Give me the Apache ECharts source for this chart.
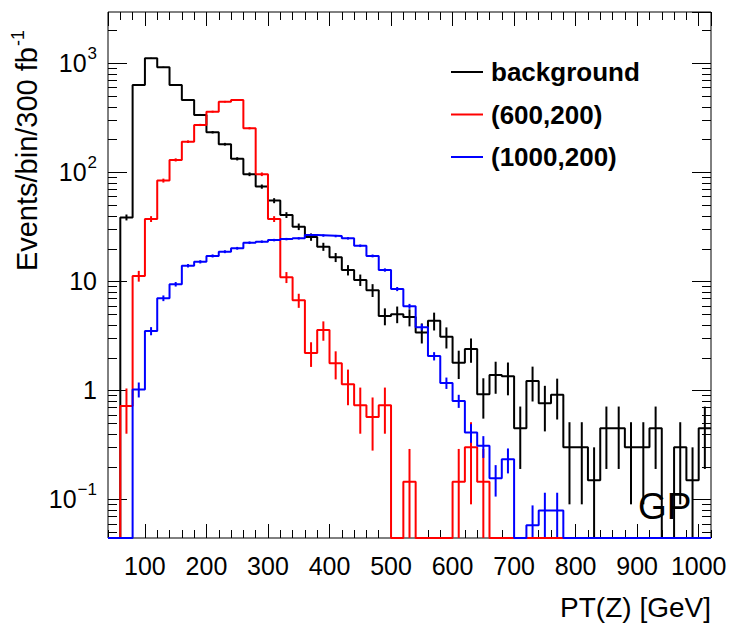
<!DOCTYPE html>
<html>
<head>
<meta charset="utf-8">
<script src="https://cdn.jsdelivr.net/npm/echarts@6/dist/echarts.min.js"></script>
<style>
  html, body { margin: 0; padding: 0; background: #fff; }
  #main { width: 732px; height: 629px; }
</style>
</head>
<body>
<div id="main"></div>
<script>
// 20 GeV bins, low edges
var binLow = [40, 60, 80, 100, 120, 140, 160, 180, 200, 220, 240, 260, 280, 300, 320, 340, 360, 380, 400, 420,
  440, 460, 480, 500, 520, 540, 560, 580, 600, 620, 640, 660, 680, 700, 720, 740, 760, 780, 800, 820,
  840, 860, 880, 900, 920, 940, 960, 980, 1000]
var binWidth = 20

var seriesNames = ["background", "(600,200)", "(1000,200)"]
var seriesColors = ["#000000", "#ff0000", "#0000ff"]

var bgVals = [0, 38.6, 632, 1112, 919, 632, 460, 336, 233, 181, 133, 96, 74, 55, 40.6, 31.7, 25.5, 20.8, 16.6, 12.7,
  10.3, 8.3, 4.8, 5.0, 4.7, 3.4, 4.35, 3.1, 1.79, 2.39, 0.92, 1.38, 1.35, 0.45, 1.22, 0.76, 0.91, 0.30, 0.30, 0.15,
  0.45, 0.45, 0.30, 0.30, 0.45, 0, 0.30, 0.15, 0.45]
var bgErrs = [0, 2.41, 9.7, 12.9, 11.7, 9.7, 8.3, 7.1, 5.9, 5.2, 4.5, 3.8, 3.3, 2.9, 2.5, 2.2, 1.96, 1.77, 1.58, 1.38,
  1.24, 1.12, 0.85, 0.87, 0.84, 0.71, 0.81, 0.68, 0.52, 0.60, 0.37, 0.45, 0.45, 0.26, 0.43, 0.34, 0.37, 0.21, 0.21, 0.15,
  0.26, 0.26, 0.21, 0.21, 0.26, 0, 0.21, 0.15, 0.26]

var sig600Vals = [0, 0.72, 11.2, 37.3, 84, 130, 191, 272, 360, 444, 460, 254, 96, 37.3, 10.9, 6.7, 2.2, 3.57, 1.77, 1.14,
  0.73, 0.57, 0.73, 0, 0.145, 0, 0, 0, 0.145, 0.30, 0.145, 0, 0, 0, 0, 0, 0, 0, 0, 0,
  0, 0, 0, 0, 0, 0, 0, 0, 0]
var sig600Errs = [0, 0.32, 1.27, 2.3, 3.5, 4.3, 5.3, 6.3, 7.2, 8.0, 8.2, 6.1, 3.7, 2.3, 1.26, 0.99, 0.56, 0.72, 0.51, 0.41,
  0.33, 0.29, 0.33, 0, 0.145, 0, 0, 0, 0.145, 0.21, 0.145, 0, 0, 0, 0, 0, 0, 0, 0, 0,
  0, 0, 0, 0, 0, 0, 0, 0, 0]

var sig1000Vals = [0, 0, 1.02, 3.5, 7.0, 9.4, 13.9, 15.1, 17.1, 18.7, 20.1, 22.6, 23.1, 23.9, 24.4, 24.8, 26.6, 26.3, 26.0, 24.8,
  21.2, 17.1, 12.7, 8.5, 5.9, 3.8, 2.06, 1.17, 0.80, 0.41, 0.31, 0.156, 0.233, 0, 0.058, 0.079, 0.079, 0, 0, 0,
  0, 0, 0, 0, 0, 0, 0, 0, 0]
var sig1000Errs = [0, 0, 0.16, 0.3, 0.42, 0.45, 0.5, 0.52, 0.55, 0.57, 0.59, 0.62, 0.62, 0.63, 0.63, 0.64, 0.66, 0.66, 0.65, 0.63,
  0.58, 0.52, 0.45, 0.37, 0.31, 0.25, 0.18, 0.14, 0.11, 0.08, 0.07, 0.05, 0.06, 0, 0.03, 0.036, 0.036, 0, 0, 0,
  0, 0, 0, 0, 0, 0, 0, 0, 0]

var xMin = 40, xMax = 1020
var yMin = 0.0442, yMax = 2955

var font = "'Liberation Sans', Arial, Helvetica, sans-serif"

// step line points, empty bins drawn on the bottom frame like ROOT does
function stepData(vals) {
  var pts = vals.map(function (v, i) { return [binLow[i], Math.max(v, yMin)] })
  pts.push([binLow[binLow.length - 1] + binWidth, Math.max(vals[vals.length - 1], yMin)])
  return pts
}

function errData(vals, errs) {
  var out = []
  vals.forEach(function (v, i) {
    if (v > 0) out.push([binLow[i] + binWidth / 2, v, errs[i]])
  })
  return out
}

function errRender(color) {
  return function (params, api) {
    var x = api.value(0), v = api.value(1), e = api.value(2)
    var top = api.coord([x, v + e])
    var bot = api.coord([x, Math.max(v - e, yMin)])
    return {
      type: "line",
      shape: { x1: top[0], y1: top[1], x2: bot[0], y2: bot[1] },
      style: { stroke: color, lineWidth: 2 }
    }
  }
}

// minor ticks of the log axis (2..9 x 10^k), both sides
var minorY = []
for (var k = -2; k <= 3; k++) {
  for (var m = 2; m <= 9; m++) {
    var t = m * Math.pow(10, k)
    if (t > yMin && t < yMax) minorY.push([xMin, t])
  }
}

var series = []
seriesNames.forEach(function (name, i) {
  var vals = [bgVals, sig600Vals, sig1000Vals][i]
  var errs = [bgErrs, sig600Errs, sig1000Errs][i]
  series.push({
    name: name,
    type: "line",
    step: "end",
    data: stepData(vals),
    symbol: "none",
    color: seriesColors[i],
    lineStyle: { color: seriesColors[i], width: 2 },
    clip: true
  })
  series.push({
    name: name + " err",
    type: "custom",
    data: errData(vals, errs),
    encode: { x: 0, y: 1 },
    renderItem: errRender(seriesColors[i]),
    clip: true
  })
})
series.push({
  name: "minor",
  type: "custom",
  data: minorY,
  encode: { x: 0, y: 1 },
  silent: true,
  renderItem: function (params, api) {
    var l = api.coord([xMin, api.value(1)])
    var r = api.coord([xMax, api.value(1)])
    var y = Math.round(l[1]) + 0.5
    return {
      type: "group",
      children: [
        { type: "line", shape: { x1: l[0], y1: y, x2: l[0] + 9, y2: y }, style: { stroke: "#000", lineWidth: 1 } },
        { type: "line", shape: { x1: r[0], y1: y, x2: r[0] - 9, y2: y }, style: { stroke: "#000", lineWidth: 1 } }
      ]
    }
  }
})

function xAxisCfg(pos, minor) {
  var cfg = {
    type: "value",
    position: pos,
    min: xMin,
    max: xMax,
    axisLine: { show: false },
    splitLine: { show: false },
    axisTick: { inside: true, length: minor ? 8 : 14, lineStyle: { color: "#000", width: 1 } },
    axisLabel: { show: false }
  }
  if (minor) cfg.interval = 20
  else cfg.splitNumber = 10
  return cfg
}

var xAxes = [xAxisCfg("bottom", false), xAxisCfg("bottom", true), xAxisCfg("top", false), xAxisCfg("top", true)]
xAxes[0].axisLabel = {
  show: true, showMinLabel: false, showMaxLabel: false, hideOverlap: false,
  margin: 15, color: "#000", fontSize: 25, fontFamily: font,
  formatter: function (v) { return String(v) }
}

function yLabel(v) {
  var p = Math.round(Math.log10(v))
  if (p === 0) return "1"
  if (p === 1) return "10"
  return "{b|10}{s|" + (p < 0 ? "\u2212" + (-p) : p) + "}"
}

function yAxisCfg(pos, labels) {
  return {
    type: "log",
    position: pos,
    min: yMin,
    max: yMax,
    axisLine: { show: false },
    splitLine: { show: false },
    axisTick: { inside: true, length: 19, lineStyle: { color: "#000", width: 1 } },
    axisLabel: labels ? {
      showMinLabel: false, showMaxLabel: false,
      margin: 11, color: "#000", fontSize: 25, fontFamily: font,
      formatter: yLabel,
      rich: {
        b: { fontSize: 25, fontFamily: font, color: "#000", verticalAlign: "bottom", lineHeight: 25 },
        s: { fontSize: 17, fontFamily: font, color: "#000", verticalAlign: "bottom", lineHeight: 17, padding: [0, 0, 14, 1] }
      }
    } : { show: false }
  }
}

var chart = echarts.init(document.getElementById("main"), null, { renderer: "svg" })
chart.setOption({
  animation: false,
  backgroundColor: "#fff",
  grid: {
    left: 108, right: 21, top: 12, bottom: 91,
    containLabel: false, outerBoundsMode: "none",
    show: true, borderColor: "#000", borderWidth: 1
  },
  xAxis: xAxes,
  yAxis: [yAxisCfg("left", true), yAxisCfg("right", false)],
  legend: {
    data: seriesNames,
    orient: "vertical",
    left: 451,
    top: 57,
    padding: 0,
    itemGap: 12.5,
    itemWidth: 32,
    itemHeight: 2,
    icon: "rect",
    selectedMode: false,
    textStyle: { color: "#000", fontSize: 26, fontWeight: "bold", fontFamily: font, lineHeight: 30, padding: [0, 0, 0, 3] }
  },
  graphic: [
    {
      type: "text",
      x: 27,
      y: 30,
      rotation: Math.PI / 2,
      style: {
        text: "{t|Events/bin/300 fb}{s|-1}",
        align: "right",
        verticalAlign: "middle",
        rich: {
          t: { fontSize: 29, fontFamily: font, fill: "#000", verticalAlign: "bottom", lineHeight: 29 },
          s: { fontSize: 18, fontFamily: font, fill: "#000", verticalAlign: "bottom", lineHeight: 18, padding: [0, 0, 15, 1] }
        }
      }
    },
    {
      type: "text",
      x: 711,
      y: 607,
      style: { text: "PT(Z) [GeV]", align: "right", verticalAlign: "middle", fontSize: 28, fontFamily: font, fill: "#000" }
    },
    {
      type: "text",
      left: 638,
      top: 488,
      style: { text: "GP", fontSize: 37, fontFamily: font, fill: "#000" }
    }
  ],
  series: series
})
</script>
</body>
</html>
